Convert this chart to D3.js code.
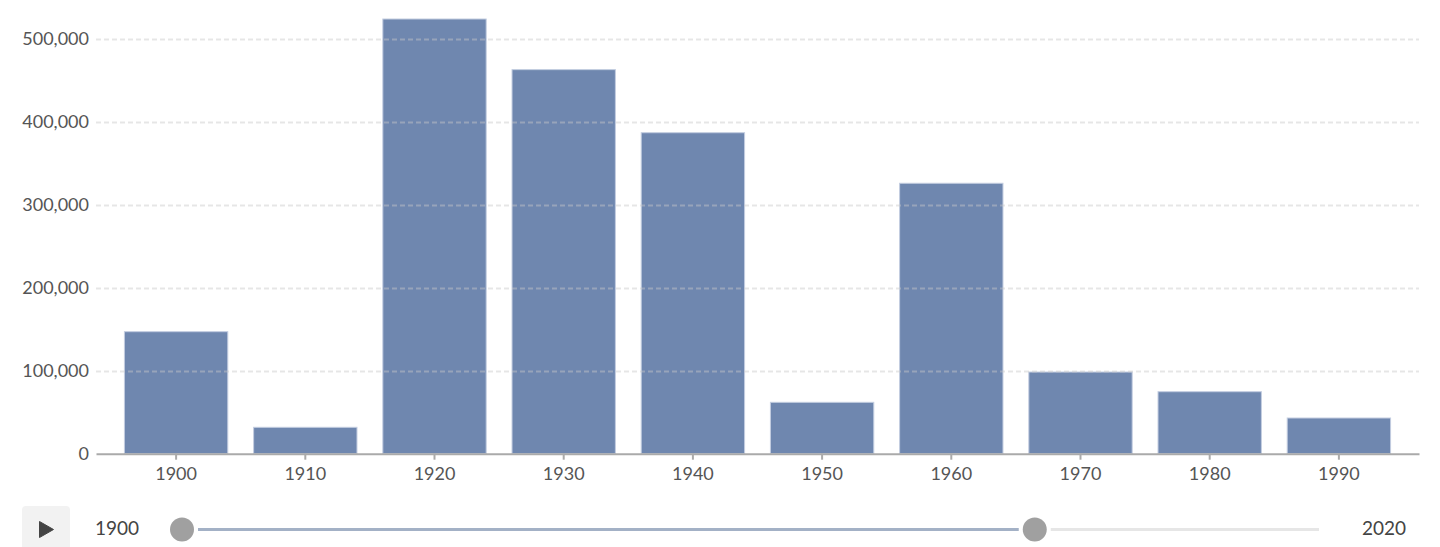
<!DOCTYPE html>
<html>
<head>
<meta charset="utf-8">
<script src="https://cdn.jsdelivr.net/npm/d3@7"></script>
<style>
  body { margin: 0; background: #fff; font-family: Lato, "Open Sans", sans-serif; }
  svg { display: block; }
</style>
</head>
<body>
<svg id="chart" width="1440" height="547"></svg>
<script>
const decades = ['1900', '1910', '1920', '1930', '1940', '1950', '1960', '1970', '1980', '1990'];
const counts = [147000, 31800, 523700, 462700, 386700, 61900, 325800, 98400, 74700, 43000];
const yTicks = [0, 100000, 200000, 300000, 400000, 500000];
const sliderDomain = [1900, 2020];
const sliderValues = [1900, 1990];

const svg = d3.select('#chart');
const plotLeft = 96, plotRight = 1419, plotTop = 19, plotBottom = 453.7;

const x = d3.scaleBand()
  .domain(decades)
  .range([plotLeft, plotRight])
  .paddingInner(0.2)
  .paddingOuter(0.22);

const y = d3.scaleLinear()
  .domain([0, d3.max(counts)])
  .range([plotBottom, plotTop]);

// bars
svg.append('g')
  .selectAll('rect')
  .data(decades)
  .enter()
  .append('rect')
    .attr('x', d => x(d))
    .attr('y', (d, i) => y(counts[i]))
    .attr('width', x.bandwidth())
    .attr('height', (d, i) => plotBottom - y(counts[i]))
    .style('fill', '#6f87af')
    .style('stroke', '#c3cde0')
    .style('stroke-width', '1px');

// dashed grid on top of bars
svg.append('g')
  .selectAll('line')
  .data(yTicks.filter(t => t > 0))
  .enter()
  .append('line')
    .attr('x1', plotLeft)
    .attr('x2', plotRight)
    .attr('y1', d => Math.round(y(d)) + 0.5)
    .attr('y2', d => Math.round(y(d)) + 0.5)
    .style('stroke', 'rgba(200,200,200,0.45)')
    .style('stroke-width', '2px')
    .style('stroke-dasharray', '5,3');

// y axis labels
const yAxis = svg.append('g')
  .attr('transform', `translate(${plotLeft},0)`)
  .call(d3.axisLeft(y).tickValues(yTicks).tickSize(0).tickPadding(7).tickFormat(d3.format(',')));
yAxis.select('.domain').remove();
yAxis.selectAll('text')
  .style('font-family', 'Lato')
  .style('font-size', '18px')
  .style('fill', '#555');

// x axis
const xAxis = svg.append('g')
  .attr('transform', `translate(0,${plotBottom})`)
  .call(d3.axisBottom(x).tickSize(6).tickPadding(8).tickSizeOuter(0));
xAxis.select('.domain')
  .style('stroke', '#aaa')
  .style('stroke-width', '2px');
xAxis.selectAll('.tick line').style('stroke', '#aaa').style('stroke-width', '2px');
xAxis.selectAll('text')
  .style('font-family', 'Lato')
  .style('font-size', '18px')
  .style('fill', '#555');

// play control + range slider
const sy = 529.5;
const ctrl = svg.append('g');
ctrl.append('rect')
  .attr('x', 22).attr('y', 506).attr('width', 48).attr('height', 50).attr('rx', 4)
  .style('fill', '#f2f2f2');
ctrl.append('path')
  .attr('d', `M39.5,${sy - 8}L53.5,${sy}L39.5,${sy + 8}Z`)
  .style('fill', '#444')
  .style('stroke', '#444')
  .style('stroke-linejoin', 'round')
  .style('stroke-width', '1px');

const s = d3.scaleLinear().domain(sliderDomain).range([182, 1319]);
const r = 12, gap = 4;

ctrl.append('line')
  .attr('x1', s(sliderValues[0]) + r + gap).attr('x2', s(sliderValues[1]) - r - gap)
  .attr('y1', sy).attr('y2', sy)
  .style('stroke', '#a3b1c6').style('stroke-width', '3px');
ctrl.append('line')
  .attr('x1', s(sliderValues[1]) + r + gap).attr('x2', s(sliderDomain[1]))
  .attr('y1', sy).attr('y2', sy)
  .style('stroke', '#e6e6e6').style('stroke-width', '3px');

ctrl.selectAll('circle.thumb')
  .data(sliderValues)
  .enter()
  .append('circle')
    .attr('class', 'thumb')
    .attr('cx', d => s(d)).attr('cy', sy).attr('r', r)
    .style('fill', '#a0a0a0');

ctrl.append('text')
  .attr('x', 117).attr('y', sy - 1)
  .attr('dy', '0.35em')
  .attr('text-anchor', 'middle')
  .style('font-size', '19px').style('fill', '#444')
  .text(sliderDomain[0]);
ctrl.append('text')
  .attr('x', 1384).attr('y', sy - 1)
  .attr('dy', '0.35em')
  .attr('text-anchor', 'middle')
  .style('font-size', '19px').style('fill', '#444')
  .text(sliderDomain[1]);
</script>
</body>
</html>
